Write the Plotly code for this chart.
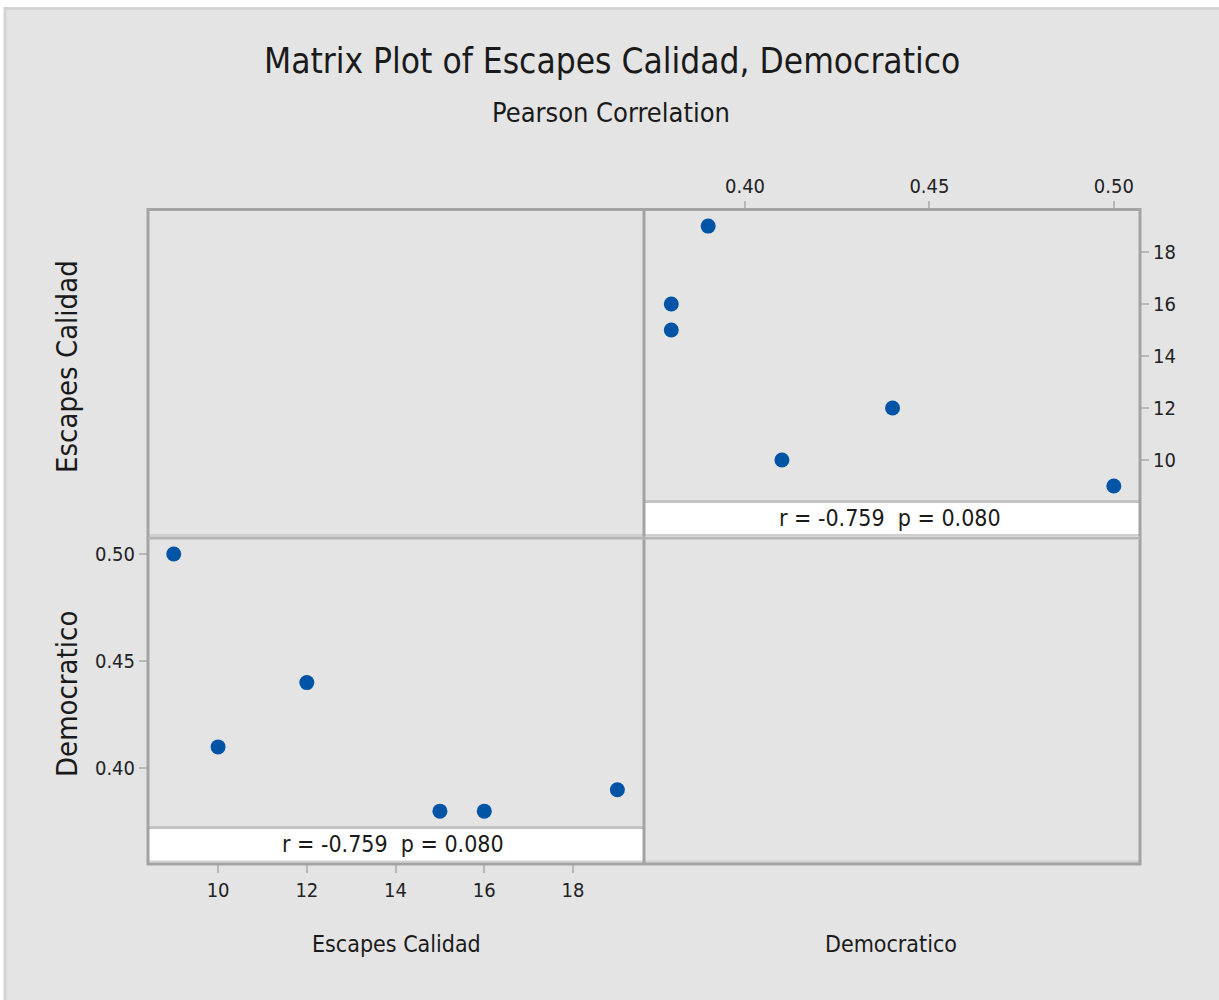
import plotly.graph_objects as go

# Data
escapes_calidad = [9, 10, 12, 15, 16, 19]
democratico = [0.50, 0.41, 0.44, 0.38, 0.38, 0.39]
r_value = -0.759
p_value = 0.080

escapes_ticks = [10, 12, 14, 16, 18]
democratico_ticks = [0.40, 0.45, 0.50]
democratico_ticklabels = ["0.40", "0.45", "0.50"]

W, H = 1219, 1000
FONT = "Liberation Sans Narrow, DejaVu Sans Condensed, Arial Narrow, sans-serif"
BG = "#e4e4e4"
FRAME = "#a3a3a3"
TICK = "#b8b8b8"
MARK = "#0054a6"


def px(x):
    return x / W


def py(y):
    return 1 - y / H


fig = go.Figure()

# Upper-right cell: Democratico (x) vs Escapes Calidad (y)
fig.add_trace(go.Scatter(
    x=democratico, y=escapes_calidad, mode="markers",
    marker=dict(color=MARK, size=15), xaxis="x", yaxis="y", showlegend=False,
))
# Lower-left cell: Escapes Calidad (x) vs Democratico (y)
fig.add_trace(go.Scatter(
    x=escapes_calidad, y=democratico, mode="markers",
    marker=dict(color=MARK, size=15), xaxis="x2", yaxis="y2", showlegend=False,
))

tickfont = dict(family=FONT, size=20, color="#222222")
common = dict(showgrid=False, zeroline=False, showline=False, ticks="outside",
              ticklen=8, tickwidth=2, tickcolor=TICK, tickfont=tickfont)

fig.update_layout(
    width=W, height=H,
    margin=dict(l=0, r=0, t=0, b=0),
    paper_bgcolor="white",
    plot_bgcolor="white",
    xaxis=dict(domain=[px(644), px(1140)], range=[0.3726, 0.5071], side="top",
               anchor="y", tickvals=democratico_ticks, ticktext=democratico_ticklabels,
               **common),
    yaxis=dict(domain=[py(501), py(210)], range=[8.42, 19.62], side="right",
               anchor="x", tickvals=escapes_ticks, **common),
    xaxis2=dict(domain=[px(148), px(644)], range=[8.42, 19.6], side="bottom",
                anchor="free", position=py(864), tickvals=escapes_ticks, **common),
    yaxis2=dict(domain=[py(827), py(538)], range=[0.3726, 0.5075], side="left",
                anchor="x2", tickvals=democratico_ticks, ticktext=democratico_ticklabels,
                **common),
)

shapes = []
# Gray page panel with a light edge
shapes.append(dict(type="rect", xref="paper", yref="paper", x0=px(5), x1=px(1225),
                   y0=py(1005), y1=py(8.5), fillcolor=BG,
                   line=dict(color="#d4d4d4", width=3), layer="below"))
# Correlation text boxes
shapes.append(dict(type="rect", xref="paper", yref="paper", x0=px(644), x1=px(1140),
                   y0=py(537), y1=py(501), fillcolor="white",
                   line=dict(width=0), layer="below"))
shapes.append(dict(type="rect", xref="paper", yref="paper", x0=px(148), x1=px(644),
                   y0=py(864), y1=py(827), fillcolor="white",
                   line=dict(width=0), layer="below"))
# Light separator above each text box
for (x0, x1, y) in [(644, 1140, 501.5), (148, 644, 827.5)]:
    shapes.append(dict(type="line", xref="paper", yref="paper", x0=px(x0), x1=px(x1),
                       y0=py(y), y1=py(y), line=dict(color="#c4c4c4", width=3)))
# Inner light edges along the cell dividers
shapes.append(dict(type="line", xref="paper", yref="paper", x0=px(148), x1=px(1140),
                   y0=py(535), y1=py(535), line=dict(color="#cfcfcf", width=2)))
shapes.append(dict(type="line", xref="paper", yref="paper", x0=px(148), x1=px(1140),
                   y0=py(861.5), y1=py(861.5), line=dict(color="#d2d2d2", width=2)))
# Frame and cell dividers
shapes.append(dict(type="rect", xref="paper", yref="paper", x0=px(148), x1=px(1140),
                   y0=py(864), y1=py(209.5), line=dict(color=FRAME, width=3)))
shapes.append(dict(type="line", xref="paper", yref="paper", x0=px(644), x1=px(644),
                   y0=py(864), y1=py(209.5), line=dict(color=FRAME, width=3)))
shapes.append(dict(type="line", xref="paper", yref="paper", x0=px(148), x1=px(1140),
                   y0=py(538), y1=py(538), line=dict(color="#b5b5b5", width=3)))
fig.update_layout(shapes=shapes)

# Empty diagonal cells keep the page gray
fig.add_shape(type="rect", xref="paper", yref="paper", x0=px(149.5), x1=px(642.5),
              y0=py(536.5), y1=py(211), fillcolor=BG, line=dict(width=0), layer="below")
fig.add_shape(type="rect", xref="paper", yref="paper", x0=px(645.5), x1=px(1138.5),
              y0=py(862.5), y1=py(539.5), fillcolor=BG, line=dict(width=0), layer="below")

corr_text = f"r = {r_value:.3f}  p = {p_value:.3f}"
txt = dict(family=FONT, color="#1a1a1a")
annotations = [
    dict(text="Matrix Plot of Escapes Calidad, Democratico", x=px(612), y=py(61),
         font=dict(size=35, **txt)),
    dict(text="Pearson Correlation", x=px(611), y=py(113), font=dict(size=27, **txt)),
    dict(text=corr_text, x=px(890), y=py(518), font=dict(size=23, **txt)),
    dict(text=corr_text, x=px(393), y=py(844), font=dict(size=23, **txt)),
    dict(text="Escapes Calidad", x=px(396), y=py(944), font=dict(size=23, **txt)),
    dict(text="Democratico", x=px(891), y=py(944), font=dict(size=23, **txt)),
    dict(text="Escapes Calidad", x=px(67), y=py(367), textangle=-90,
         font=dict(size=29, **txt)),
    dict(text="Democratico", x=px(67), y=py(694), textangle=-90,
         font=dict(size=29, **txt)),
]
for a in annotations:
    a.update(xref="paper", yref="paper", showarrow=False, xanchor="center",
             yanchor="middle")
fig.update_layout(annotations=annotations)

fig.write_html("out.html")
